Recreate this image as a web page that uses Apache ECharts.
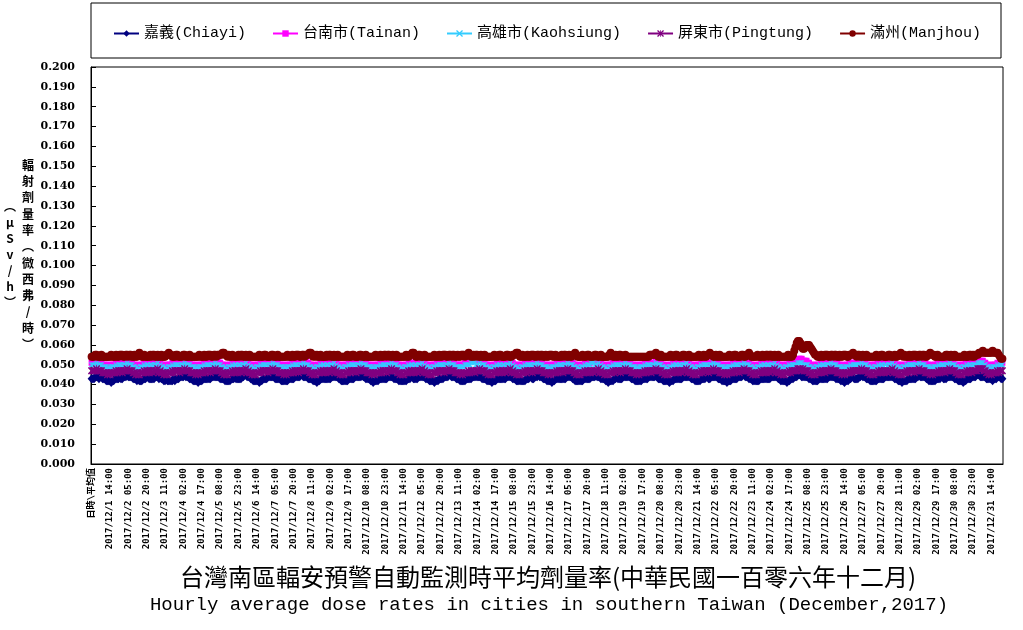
<!DOCTYPE html>
<html>
<head>
<meta charset="utf-8">
<title>台灣南區輻安預警自動監測時平均劑量率</title>
<script src="https://cdn.jsdelivr.net/npm/echarts@6/dist/echarts.min.js"></script>
<style>
  html, body { margin: 0; padding: 0; background: #fff; }
  #main { width: 1023px; height: 630px; }
</style>
</head>
<body>
<div id="main"></div>
<script>
// 第一格是「日時\平均值」，之後每小時一格 (2017/12/1 00:00 ~ 2017/12/31 23:00)
var firstCat = '日時\\平均值';
var monthPrefix = '2017/12/';
var dayCount = 31;
var yMin = 0, yMax = 0.2, yStep = 0.01;

var seriesNames = ['嘉義(Chiayi)', '台南市(Tainan)', '高雄市(Kaohsiung)', '屏東市(Pingtung)', '滿州(Manjhou)'];

// µSv/h，一列一天 (0時~23時)
var chiayi = [.043,
.043,.043,.044,.044,.044,.043,.044,.044,.043,.043,.043,.042,.042,.042,.042,.041,.042,.042,.043,.043,.043,.043,.044,.043,
.043,.044,.044,.044,.045,.044,.044,.044,.044,.043,.043,.043,.042,.043,.042,.042,.042,.043,.043,.043,.044,.044,.043,.043,
.043,.043,.043,.044,.044,.044,.043,.044,.043,.043,.042,.042,.043,.042,.042,.042,.042,.042,.043,.042,.043,.043,.043,.044,
.044,.044,.044,.045,.044,.044,.044,.043,.043,.043,.042,.042,.042,.042,.041,.042,.042,.042,.043,.043,.043,.043,.043,.043,
.043,.044,.044,.044,.044,.044,.044,.044,.043,.043,.043,.043,.042,.042,.042,.042,.042,.043,.043,.043,.044,.043,.043,.043,
.043,.043,.044,.044,.045,.045,.044,.044,.044,.043,.043,.042,.042,.042,.042,.042,.041,.042,.042,.043,.043,.043,.043,.044,
.044,.044,.044,.044,.044,.043,.043,.043,.043,.043,.042,.042,.042,.042,.042,.042,.043,.043,.043,.043,.043,.044,.044,.044,
.044,.044,.045,.045,.044,.044,.044,.044,.043,.043,.043,.043,.042,.042,.042,.041,.042,.042,.043,.043,.043,.043,.043,.043,
.043,.043,.043,.044,.044,.044,.044,.044,.044,.043,.043,.042,.042,.042,.042,.042,.042,.043,.043,.043,.043,.043,.044,.044,
.044,.044,.044,.044,.045,.044,.044,.043,.043,.043,.043,.042,.042,.041,.042,.042,.042,.042,.043,.043,.043,.043,.043,.043,
.043,.044,.044,.044,.044,.044,.043,.043,.043,.043,.042,.042,.042,.042,.042,.042,.042,.043,.043,.043,.044,.044,.043,.043,
.043,.043,.044,.044,.044,.044,.044,.044,.043,.043,.043,.042,.042,.042,.042,.041,.042,.042,.042,.043,.043,.043,.043,.044,
.044,.044,.044,.045,.045,.044,.044,.044,.044,.043,.043,.043,.042,.042,.042,.042,.042,.043,.043,.043,.043,.043,.044,.044,
.044,.044,.044,.044,.044,.044,.043,.043,.043,.043,.042,.042,.042,.042,.041,.042,.042,.042,.043,.043,.043,.043,.043,.043,
.043,.043,.044,.044,.044,.044,.044,.043,.043,.043,.042,.042,.042,.042,.042,.042,.042,.042,.043,.043,.043,.044,.044,.043,
.043,.044,.044,.044,.045,.044,.044,.044,.043,.043,.043,.042,.042,.042,.042,.041,.042,.042,.043,.043,.043,.043,.043,.043,
.043,.043,.043,.044,.044,.044,.044,.044,.043,.043,.042,.042,.042,.042,.042,.042,.042,.043,.043,.043,.043,.043,.043,.044,
.044,.044,.044,.045,.044,.044,.044,.043,.043,.043,.043,.042,.042,.041,.042,.042,.042,.042,.043,.043,.044,.043,.043,.043,
.043,.044,.044,.044,.044,.044,.044,.044,.043,.043,.043,.042,.042,.042,.042,.042,.042,.043,.043,.043,.043,.043,.044,.044,
.044,.044,.044,.044,.045,.044,.043,.043,.043,.043,.042,.042,.042,.042,.042,.041,.042,.042,.042,.043,.043,.043,.043,.043,
.043,.043,.044,.044,.044,.044,.044,.044,.044,.043,.043,.043,.042,.042,.042,.042,.042,.043,.043,.043,.043,.044,.044,.043,
.043,.044,.044,.044,.044,.044,.044,.043,.043,.043,.042,.042,.042,.042,.041,.042,.042,.042,.043,.043,.043,.043,.043,.044,
.044,.044,.044,.045,.045,.044,.044,.044,.043,.043,.043,.042,.042,.042,.042,.042,.042,.043,.043,.043,.043,.043,.043,.043,
.043,.043,.044,.044,.044,.044,.044,.044,.043,.043,.042,.042,.042,.042,.042,.041,.042,.042,.043,.043,.043,.044,.044,.044,
.045,.045,.045,.044,.044,.044,.044,.044,.044,.043,.043,.043,.042,.042,.042,.042,.042,.043,.043,.043,.043,.043,.043,.043,
.043,.044,.044,.044,.044,.044,.044,.043,.043,.043,.043,.042,.042,.042,.041,.042,.042,.042,.043,.043,.044,.044,.043,.043,
.043,.043,.044,.044,.045,.044,.044,.044,.043,.043,.043,.042,.042,.042,.042,.042,.042,.043,.043,.043,.043,.043,.043,.044,
.044,.044,.044,.044,.044,.044,.044,.043,.043,.043,.042,.042,.042,.041,.042,.042,.042,.042,.043,.043,.043,.043,.043,.043,
.043,.044,.044,.045,.044,.044,.044,.044,.044,.043,.043,.042,.042,.042,.042,.042,.042,.043,.043,.043,.043,.044,.044,.043,
.043,.043,.044,.044,.044,.044,.044,.044,.043,.043,.043,.042,.042,.042,.042,.041,.042,.042,.043,.043,.043,.043,.044,.044,
.044,.044,.045,.045,.045,.044,.044,.044,.044,.044,.043,.043,.043,.043,.043,.042,.043,.043,.043,.044,.044,.044,.043,.043];

var tainan = [.051,
.051,.051,.051,.052,.051,.051,.051,.051,.050,.050,.050,.050,.049,.050,.049,.050,.050,.050,.050,.051,.050,.051,.051,.051,
.050,.051,.051,.051,.052,.052,.052,.051,.051,.050,.050,.049,.050,.050,.049,.049,.050,.050,.051,.050,.051,.051,.050,.051,
.051,.050,.051,.051,.051,.050,.050,.051,.050,.050,.049,.050,.050,.049,.050,.050,.050,.051,.050,.050,.051,.051,.051,.051,
.051,.051,.052,.052,.051,.051,.051,.051,.050,.050,.050,.050,.049,.050,.049,.050,.050,.050,.050,.051,.050,.051,.051,.051,
.050,.051,.051,.051,.052,.051,.052,.051,.051,.050,.050,.049,.050,.050,.049,.049,.050,.050,.051,.050,.051,.051,.050,.051,
.051,.050,.051,.051,.051,.051,.050,.051,.050,.050,.049,.050,.050,.049,.050,.050,.050,.051,.050,.050,.051,.051,.051,.051,
.051,.051,.051,.052,.051,.051,.051,.051,.050,.050,.050,.050,.049,.050,.049,.050,.050,.050,.050,.051,.050,.051,.051,.051,
.050,.051,.051,.051,.052,.052,.052,.051,.051,.050,.050,.049,.050,.050,.049,.049,.050,.050,.051,.050,.051,.051,.050,.051,
.051,.050,.051,.051,.051,.050,.050,.051,.050,.050,.049,.050,.050,.049,.050,.050,.050,.051,.050,.050,.051,.051,.051,.051,
.051,.051,.051,.052,.051,.051,.051,.051,.050,.050,.050,.050,.049,.050,.049,.050,.050,.050,.050,.051,.050,.051,.051,.051,
.050,.051,.051,.051,.052,.052,.052,.051,.051,.050,.050,.049,.050,.050,.049,.049,.050,.050,.051,.050,.051,.051,.050,.051,
.051,.050,.051,.051,.051,.050,.050,.051,.050,.050,.049,.050,.050,.049,.050,.050,.050,.051,.050,.050,.051,.051,.051,.051,
.051,.051,.051,.052,.051,.051,.051,.051,.050,.050,.050,.050,.050,.050,.050,.050,.051,.052,.052,.052,.052,.052,.052,.052,
.052,.052,.052,.052,.052,.052,.052,.051,.051,.050,.050,.049,.050,.050,.049,.049,.050,.050,.051,.050,.051,.051,.050,.051,
.051,.050,.051,.051,.051,.050,.050,.051,.050,.050,.049,.050,.050,.049,.050,.050,.050,.051,.050,.050,.051,.051,.051,.051,
.051,.051,.051,.052,.051,.051,.051,.051,.050,.050,.050,.050,.049,.050,.049,.050,.050,.050,.050,.051,.050,.051,.051,.051,
.050,.051,.051,.051,.052,.051,.051,.051,.051,.050,.050,.049,.050,.050,.049,.049,.050,.050,.051,.050,.051,.051,.051,.052,
.052,.052,.052,.052,.051,.051,.050,.051,.050,.050,.049,.050,.050,.049,.050,.050,.050,.051,.050,.050,.051,.051,.051,.051,
.051,.051,.051,.052,.051,.051,.051,.051,.050,.050,.050,.050,.049,.050,.049,.050,.050,.050,.050,.051,.050,.051,.051,.051,
.050,.051,.051,.051,.052,.052,.051,.051,.051,.050,.050,.049,.050,.050,.049,.049,.050,.050,.051,.050,.051,.051,.050,.051,
.051,.050,.051,.051,.051,.050,.050,.051,.050,.050,.049,.050,.050,.049,.050,.050,.050,.051,.050,.050,.051,.051,.051,.051,
.051,.051,.051,.052,.051,.051,.051,.051,.050,.050,.050,.050,.049,.050,.049,.050,.050,.050,.050,.051,.050,.051,.051,.051,
.050,.051,.051,.051,.052,.052,.052,.051,.051,.050,.050,.049,.050,.050,.049,.049,.050,.050,.051,.050,.051,.051,.050,.051,
.051,.050,.051,.051,.051,.050,.050,.051,.050,.050,.049,.050,.050,.049,.050,.050,.050,.051,.050,.050,.051,.051,.052,.052,
.052,.053,.053,.053,.052,.052,.052,.052,.051,.051,.050,.050,.049,.050,.049,.050,.050,.050,.050,.051,.050,.051,.051,.051,
.050,.051,.051,.051,.052,.051,.052,.051,.051,.050,.050,.049,.050,.050,.049,.049,.050,.050,.051,.050,.051,.051,.050,.051,
.052,.052,.052,.052,.052,.051,.050,.051,.050,.050,.049,.050,.050,.049,.050,.050,.050,.051,.050,.050,.051,.051,.051,.051,
.051,.051,.051,.052,.051,.051,.051,.051,.050,.050,.050,.050,.049,.050,.049,.050,.050,.050,.050,.051,.050,.051,.051,.051,
.050,.051,.051,.051,.052,.052,.052,.051,.051,.050,.050,.049,.050,.050,.049,.049,.050,.050,.051,.050,.051,.051,.050,.051,
.051,.050,.051,.051,.051,.050,.050,.051,.050,.050,.049,.050,.050,.049,.050,.050,.050,.051,.050,.050,.051,.051,.051,.051,
.051,.051,.051,.052,.052,.052,.052,.052,.051,.051,.050,.050,.049,.050,.049,.050,.050,.050,.050,.051,.050,.051,.051,.051];

var kaohsiung = [.050,
.050,.050,.050,.051,.050,.050,.050,.050,.049,.049,.049,.049,.048,.049,.048,.049,.049,.049,.049,.050,.049,.050,.050,.050,
.049,.050,.050,.050,.051,.050,.050,.050,.050,.049,.049,.048,.049,.048,.048,.049,.049,.049,.050,.049,.050,.050,.049,.050,
.050,.049,.050,.050,.050,.051,.049,.050,.049,.049,.048,.049,.048,.048,.049,.049,.049,.050,.049,.050,.050,.050,.050,.049,
.050,.050,.050,.051,.050,.050,.050,.050,.049,.049,.049,.049,.048,.049,.048,.049,.049,.049,.049,.050,.049,.050,.050,.050,
.049,.050,.050,.050,.051,.050,.050,.050,.050,.049,.049,.048,.049,.048,.048,.049,.049,.049,.050,.049,.050,.050,.049,.050,
.050,.049,.050,.050,.050,.051,.049,.050,.049,.049,.048,.049,.048,.048,.049,.049,.049,.050,.049,.050,.050,.050,.050,.049,
.050,.050,.050,.051,.050,.050,.050,.050,.049,.049,.049,.049,.048,.049,.048,.049,.049,.049,.049,.050,.049,.050,.050,.050,
.049,.050,.050,.050,.051,.050,.050,.050,.050,.049,.049,.048,.049,.048,.048,.049,.049,.049,.050,.049,.050,.050,.049,.050,
.050,.049,.050,.050,.050,.051,.049,.050,.049,.049,.048,.049,.048,.048,.049,.049,.049,.050,.049,.050,.050,.050,.050,.049,
.050,.050,.050,.051,.050,.050,.050,.050,.049,.049,.049,.049,.048,.049,.048,.049,.049,.049,.049,.050,.049,.050,.050,.050,
.049,.050,.050,.050,.051,.050,.050,.050,.050,.049,.049,.048,.049,.048,.048,.049,.049,.049,.050,.049,.050,.050,.049,.050,
.050,.049,.050,.050,.050,.051,.049,.050,.049,.049,.048,.049,.048,.048,.049,.049,.049,.050,.049,.050,.050,.050,.050,.049,
.050,.050,.050,.051,.050,.050,.050,.050,.049,.049,.049,.049,.049,.049,.049,.049,.050,.050,.050,.050,.050,.051,.051,.051,
.051,.050,.050,.050,.051,.050,.050,.050,.050,.049,.049,.048,.049,.048,.048,.049,.049,.049,.050,.049,.050,.050,.049,.050,
.050,.049,.050,.050,.050,.051,.049,.050,.049,.049,.048,.049,.048,.048,.049,.049,.049,.050,.049,.050,.050,.050,.050,.049,
.050,.050,.050,.051,.050,.050,.050,.050,.049,.049,.049,.049,.048,.049,.048,.049,.049,.049,.049,.050,.049,.050,.050,.050,
.049,.050,.050,.050,.051,.050,.050,.050,.050,.049,.049,.048,.049,.048,.048,.049,.049,.049,.050,.049,.050,.050,.050,.051,
.051,.051,.050,.050,.050,.051,.049,.050,.049,.049,.048,.049,.048,.048,.049,.049,.049,.050,.049,.050,.050,.050,.050,.049,
.050,.050,.050,.051,.050,.050,.050,.050,.049,.049,.049,.049,.048,.049,.048,.049,.049,.049,.049,.050,.049,.050,.050,.050,
.049,.050,.050,.050,.051,.050,.050,.050,.050,.049,.049,.048,.049,.048,.048,.049,.049,.049,.050,.049,.050,.050,.049,.050,
.050,.049,.050,.050,.050,.051,.049,.050,.049,.049,.048,.049,.048,.048,.049,.049,.049,.050,.049,.050,.050,.050,.050,.049,
.050,.050,.050,.051,.050,.050,.050,.050,.049,.049,.049,.049,.048,.049,.048,.049,.049,.049,.049,.050,.049,.050,.050,.050,
.049,.050,.050,.050,.051,.050,.050,.050,.050,.049,.049,.048,.049,.048,.048,.049,.049,.049,.050,.049,.050,.050,.049,.050,
.050,.049,.050,.050,.050,.051,.049,.050,.049,.049,.048,.049,.048,.048,.049,.049,.049,.050,.049,.050,.050,.050,.050,.050,
.051,.051,.051,.051,.050,.050,.050,.050,.050,.049,.049,.048,.049,.048,.048,.049,.049,.049,.050,.049,.050,.050,.049,.050,
.050,.050,.050,.051,.050,.050,.050,.050,.049,.049,.049,.049,.048,.049,.048,.049,.049,.049,.049,.050,.049,.050,.050,.050,
.050,.050,.050,.050,.051,.050,.050,.050,.050,.049,.049,.048,.049,.048,.048,.049,.049,.049,.050,.049,.050,.050,.049,.050,
.050,.049,.050,.050,.050,.051,.049,.050,.049,.049,.048,.049,.048,.048,.049,.049,.049,.050,.049,.050,.050,.050,.050,.049,
.050,.050,.050,.051,.050,.050,.050,.050,.049,.049,.049,.049,.048,.049,.048,.049,.049,.049,.049,.050,.049,.050,.050,.050,
.049,.050,.050,.050,.051,.050,.050,.050,.050,.049,.049,.048,.049,.048,.048,.049,.049,.049,.050,.049,.050,.050,.049,.050,
.050,.050,.050,.051,.051,.051,.051,.051,.050,.050,.049,.049,.048,.049,.048,.049,.049,.049,.049,.050,.049,.050,.050,.050];

var pingtung = [.047,
.047,.047,.047,.048,.047,.047,.047,.047,.046,.046,.046,.046,.045,.046,.045,.046,.046,.046,.046,.047,.046,.047,.047,.047,
.046,.047,.047,.047,.048,.047,.047,.047,.047,.046,.046,.045,.046,.045,.045,.046,.046,.046,.047,.046,.047,.047,.046,.047,
.047,.046,.047,.047,.047,.048,.046,.047,.046,.046,.045,.046,.045,.045,.046,.046,.046,.047,.046,.047,.047,.047,.047,.046,
.047,.047,.047,.048,.047,.047,.047,.047,.046,.046,.046,.046,.045,.046,.045,.046,.046,.046,.046,.047,.046,.047,.047,.047,
.046,.047,.047,.047,.048,.047,.047,.047,.047,.046,.046,.045,.046,.045,.045,.046,.046,.046,.047,.046,.047,.047,.046,.047,
.047,.046,.047,.047,.047,.048,.046,.047,.046,.046,.045,.046,.045,.045,.046,.046,.046,.047,.046,.047,.047,.047,.047,.046,
.047,.047,.047,.048,.047,.047,.047,.047,.046,.046,.046,.046,.045,.046,.045,.046,.046,.046,.046,.047,.046,.047,.047,.047,
.046,.047,.047,.047,.048,.047,.047,.047,.047,.046,.046,.045,.046,.045,.045,.046,.046,.046,.047,.046,.047,.047,.046,.047,
.047,.046,.047,.047,.047,.048,.046,.047,.046,.046,.045,.046,.045,.045,.046,.046,.046,.047,.046,.047,.047,.047,.047,.046,
.047,.047,.047,.048,.047,.047,.047,.047,.046,.046,.046,.046,.045,.046,.045,.046,.046,.046,.046,.047,.046,.047,.047,.047,
.046,.047,.047,.047,.048,.047,.047,.047,.047,.046,.046,.045,.046,.045,.045,.046,.046,.046,.047,.046,.047,.047,.046,.047,
.047,.046,.047,.047,.047,.048,.046,.047,.046,.046,.045,.046,.045,.045,.046,.046,.046,.047,.046,.047,.047,.047,.047,.046,
.047,.047,.047,.048,.047,.047,.047,.047,.046,.046,.046,.046,.045,.046,.045,.046,.046,.046,.046,.047,.046,.047,.047,.047,
.046,.047,.047,.047,.048,.047,.047,.047,.047,.046,.046,.045,.046,.045,.045,.046,.046,.046,.047,.046,.047,.047,.046,.047,
.047,.046,.047,.047,.047,.048,.046,.047,.046,.046,.045,.046,.045,.045,.046,.046,.046,.047,.046,.047,.047,.047,.047,.046,
.047,.047,.047,.048,.047,.047,.047,.047,.046,.046,.046,.046,.045,.046,.045,.046,.046,.046,.046,.047,.046,.047,.047,.047,
.046,.047,.047,.047,.048,.047,.047,.047,.047,.046,.046,.045,.046,.045,.045,.046,.046,.046,.047,.046,.047,.047,.046,.047,
.047,.046,.047,.047,.047,.048,.046,.047,.046,.046,.045,.046,.045,.045,.046,.046,.046,.047,.046,.047,.047,.047,.047,.046,
.047,.047,.047,.048,.047,.047,.047,.047,.046,.046,.046,.046,.045,.046,.045,.046,.046,.046,.046,.047,.046,.047,.047,.047,
.046,.047,.047,.047,.048,.047,.047,.047,.047,.046,.046,.045,.046,.045,.045,.046,.046,.046,.047,.046,.047,.047,.046,.047,
.047,.046,.047,.047,.047,.048,.046,.047,.046,.046,.045,.046,.045,.045,.046,.046,.046,.047,.046,.047,.047,.047,.047,.046,
.047,.047,.047,.048,.047,.047,.047,.047,.046,.046,.046,.046,.045,.046,.045,.046,.046,.046,.046,.047,.046,.047,.047,.047,
.046,.047,.047,.047,.048,.047,.047,.047,.047,.046,.046,.045,.046,.045,.045,.046,.046,.046,.047,.046,.047,.047,.046,.047,
.047,.046,.047,.047,.047,.048,.046,.047,.046,.046,.045,.046,.045,.045,.046,.046,.046,.047,.046,.047,.047,.047,.047,.047,
.048,.048,.048,.047,.048,.047,.047,.047,.047,.046,.046,.045,.046,.045,.045,.046,.046,.046,.047,.046,.047,.047,.046,.047,
.047,.047,.047,.048,.047,.047,.047,.047,.046,.046,.046,.046,.045,.046,.045,.046,.046,.046,.046,.047,.046,.047,.047,.047,
.047,.047,.047,.047,.048,.047,.047,.047,.047,.046,.046,.045,.046,.045,.045,.046,.046,.046,.047,.046,.047,.047,.046,.047,
.047,.046,.047,.047,.047,.048,.046,.047,.046,.046,.045,.046,.045,.045,.046,.046,.046,.047,.046,.047,.047,.047,.047,.046,
.047,.047,.047,.048,.047,.047,.047,.047,.046,.046,.046,.046,.045,.046,.045,.046,.046,.046,.046,.047,.046,.047,.047,.047,
.046,.047,.047,.047,.048,.047,.047,.047,.047,.046,.046,.045,.046,.045,.045,.046,.046,.046,.047,.046,.047,.047,.046,.047,
.047,.047,.047,.048,.048,.048,.048,.048,.047,.047,.046,.046,.045,.046,.045,.046,.046,.046,.046,.047,.046,.047,.047,.047];

var manjhou = [.054,
.054,.054,.055,.055,.054,.054,.054,.055,.054,.054,.054,.054,.054,.054,.054,.055,.054,.054,.054,.055,.054,.054,.055,.055,
.055,.054,.054,.055,.055,.054,.055,.055,.054,.054,.055,.054,.054,.055,.056,.055,.054,.054,.055,.054,.054,.054,.054,.055,
.054,.055,.055,.054,.054,.055,.054,.054,.055,.054,.054,.054,.055,.055,.056,.055,.055,.054,.054,.054,.055,.055,.054,.054,
.054,.054,.055,.055,.054,.054,.054,.055,.054,.054,.054,.054,.054,.054,.054,.055,.054,.054,.054,.055,.054,.054,.055,.055,
.055,.054,.054,.055,.055,.054,.055,.055,.055,.055,.056,.056,.055,.055,.054,.055,.054,.054,.055,.054,.054,.054,.054,.055,
.054,.055,.055,.054,.054,.055,.054,.054,.055,.054,.054,.054,.054,.054,.054,.054,.055,.054,.054,.054,.055,.055,.054,.054,
.054,.054,.055,.055,.054,.054,.054,.055,.054,.054,.054,.054,.054,.054,.054,.055,.054,.054,.054,.055,.054,.054,.055,.055,
.055,.054,.054,.055,.055,.054,.055,.055,.055,.056,.056,.055,.054,.055,.054,.055,.054,.054,.055,.054,.054,.054,.054,.055,
.054,.055,.055,.054,.054,.055,.054,.054,.055,.054,.054,.054,.054,.054,.054,.054,.055,.054,.054,.054,.055,.055,.054,.054,
.054,.054,.055,.055,.054,.054,.054,.055,.054,.054,.054,.054,.054,.054,.054,.055,.054,.054,.054,.055,.054,.054,.055,.055,
.054,.055,.055,.054,.054,.055,.054,.054,.055,.054,.054,.054,.054,.054,.054,.054,.055,.054,.054,.055,.055,.056,.056,.055,
.054,.054,.055,.055,.054,.054,.054,.055,.054,.054,.054,.054,.054,.054,.054,.055,.054,.054,.054,.055,.054,.054,.055,.055,
.055,.054,.054,.055,.055,.054,.055,.055,.054,.054,.055,.054,.054,.055,.055,.055,.054,.055,.055,.056,.055,.054,.054,.055,
.054,.055,.055,.054,.054,.055,.054,.054,.055,.054,.054,.054,.054,.054,.054,.054,.055,.054,.054,.054,.055,.055,.054,.054,
.054,.054,.055,.055,.054,.054,.054,.055,.055,.055,.056,.056,.055,.054,.054,.055,.054,.054,.054,.055,.054,.054,.055,.055,
.055,.054,.054,.055,.055,.054,.055,.055,.054,.054,.055,.054,.054,.055,.055,.055,.054,.054,.055,.054,.054,.054,.054,.055,
.054,.055,.055,.054,.054,.055,.054,.054,.055,.055,.056,.055,.054,.054,.054,.054,.055,.054,.054,.054,.055,.055,.054,.054,
.054,.054,.055,.055,.054,.054,.054,.055,.054,.054,.054,.054,.054,.054,.055,.056,.055,.054,.054,.055,.054,.054,.055,.055,
.054,.054,.054,.055,.054,.054,.054,.054,.054,.054,.054,.054,.054,.054,.054,.054,.054,.054,.054,.054,.054,.054,.054,.055,
.055,.055,.055,.055,.056,.055,.054,.054,.055,.054,.054,.054,.054,.054,.054,.054,.055,.054,.054,.054,.055,.055,.054,.054,
.054,.054,.055,.055,.054,.054,.054,.055,.054,.054,.054,.054,.054,.054,.054,.055,.054,.054,.054,.055,.054,.054,.055,.055,
.056,.055,.055,.054,.054,.055,.054,.054,.055,.054,.054,.054,.054,.054,.054,.054,.055,.054,.054,.054,.055,.055,.054,.054,
.054,.054,.055,.055,.054,.054,.055,.055,.056,.055,.054,.054,.054,.054,.054,.055,.054,.054,.054,.055,.054,.054,.055,.055,
.054,.055,.055,.054,.054,.055,.054,.054,.055,.054,.054,.054,.054,.054,.054,.054,.055,.054,.054,.054,.055,.057,.059,.061,
.062,.062,.061,.059,.058,.058,.059,.060,.060,.060,.059,.058,.057,.056,.055,.055,.054,.054,.054,.055,.054,.054,.055,.055,
.055,.054,.054,.055,.055,.054,.055,.055,.054,.054,.055,.054,.054,.055,.055,.055,.054,.054,.055,.055,.055,.056,.055,.055,
.054,.055,.055,.054,.054,.055,.054,.054,.055,.054,.054,.054,.054,.054,.054,.054,.055,.054,.054,.054,.055,.055,.054,.054,
.054,.054,.055,.055,.054,.054,.054,.055,.054,.054,.055,.055,.056,.055,.054,.055,.054,.054,.054,.055,.054,.054,.055,.055,
.055,.054,.054,.055,.055,.054,.055,.055,.054,.054,.055,.055,.056,.055,.055,.055,.054,.054,.055,.054,.054,.054,.054,.054,
.054,.055,.055,.054,.054,.055,.054,.054,.055,.054,.054,.054,.054,.054,.054,.054,.055,.054,.054,.054,.055,.055,.054,.055,
.054,.055,.055,.055,.056,.056,.056,.057,.056,.056,.056,.056,.056,.056,.056,.057,.056,.056,.056,.056,.055,.054,.053,.053];

// 類別軸
var cats = [firstCat];
for (var d = 1; d <= dayCount; d++) {
    for (var h = 0; h < 24; h++) {
        cats.push(monthPrefix + d + ' ' + (h < 10 ? '0' + h : h) + ':00');
    }
}

// 符號：× 與 *
var crossPath = 'M0,0L1.5,0L5,3.5L8.5,0L10,0L10,1.5L6.5,5L10,8.5L10,10L8.5,10L5,6.5L1.5,10L0,10L0,8.5L3.5,5L0,1.5Z';
var barPath = 'M4.4,0L5.6,0L5.6,10L4.4,10Z';

function mkSeries(name, data, color, symbol, size) {
    return {
        name: name,
        type: 'line',
        data: data,
        symbol: symbol,
        symbolSize: size,
        showAllSymbol: true,
        itemStyle: { color: color },
        lineStyle: { color: color, width: 1 },
        emphasis: { disabled: true }
    };
}

var monoFont = '"Liberation Mono", "Noto Sans CJK TC"';
var boldMono = '"DejaVu Sans Mono", "Noto Sans CJK TC"';

var chart = echarts.init(document.getElementById('main'));
chart.setOption({
    animation: false,
    backgroundColor: '#fff',
    legend: {
        left: 108,
        top: 21,
        itemGap: 26,
        itemWidth: 25,
        itemHeight: 8,
        textStyle: { fontFamily: monoFont, fontSize: 15, color: '#000' },
        data: seriesNames
    },
    grid: {
        left: 91, right: 20, top: 67, bottom: 166,
        show: true, borderColor: '#000', borderWidth: 1
    },
    xAxis: {
        type: 'category',
        data: cats,
        boundaryGap: true,
        axisLine: { lineStyle: { color: '#000', width: 1 } },
        axisTick: { inside: true, length: 3, interval: 1, lineStyle: { color: '#000' } },
        axisLabel: {
            interval: 14, rotate: 90, margin: 4,
            fontFamily: boldMono, fontWeight: 'bold', fontSize: 9, color: '#000'
        },
        splitLine: { show: false }
    },
    yAxis: {
        type: 'value',
        min: yMin, max: yMax, interval: yStep,
        axisLine: { show: true, lineStyle: { color: '#000', width: 1 } },
        axisTick: { show: true, inside: true, length: 5, lineStyle: { color: '#000' } },
        axisLabel: {
            margin: 16, color: '#000', fontFamily: '"DejaVu Serif"', fontWeight: 'bold', fontSize: 11,
            formatter: function (v) { return v.toFixed(3); }
        },
        splitLine: { show: false }
    },
    graphic: [
        { type: 'rect', shape: { x: 91, y: 3, width: 910, height: 55 }, style: { fill: 'none', stroke: '#000', lineWidth: 1 } },
        { type: 'text', style: { text: '輻\n射\n劑\n量\n率\n︵\n微\n西\n弗\n/\n時\n︶', x: 28, y: 157, textAlign: 'center', textVerticalAlign: 'top', lineHeight: 16.3, font: 'bold 12px "Noto Sans CJK TC"', fill: '#000' } },
        { type: 'text', style: { text: '︵\nμ\nS\nv\n/\nh\n︶', x: 10, y: 198, textAlign: 'center', textVerticalAlign: 'top', lineHeight: 16, font: 'bold 12px "Noto Sans CJK TC"', fill: '#000' } },
        { type: 'text', style: { text: '台灣南區輻安預警自動監測時平均劑量率(中華民國一百零六年十二月)', x: 548, y: 577, textAlign: 'center', textVerticalAlign: 'middle', font: '24px "Noto Sans CJK TC"', fill: '#000' } },
        { type: 'text', style: { text: 'Hourly average dose rates in cities in southern Taiwan (December,2017)', x: 549, y: 605, textAlign: 'center', textVerticalAlign: 'middle', font: '19px "Liberation Mono"', fill: '#000' } }
    ],
    series: [
        mkSeries(seriesNames[0], chiayi, '#000080', 'diamond', [8, 9]),
        mkSeries(seriesNames[1], tainan, '#FF00FF', 'rect', 6),
        mkSeries(seriesNames[2], kaohsiung, '#33CCFF', 'path://' + crossPath, 5),
        mkSeries(seriesNames[3], pingtung, '#800080', 'path://' + crossPath + barPath, 7),
        mkSeries(seriesNames[4], manjhou, '#800000', 'circle', 8)
    ]
});
</script>
</body>
</html>
